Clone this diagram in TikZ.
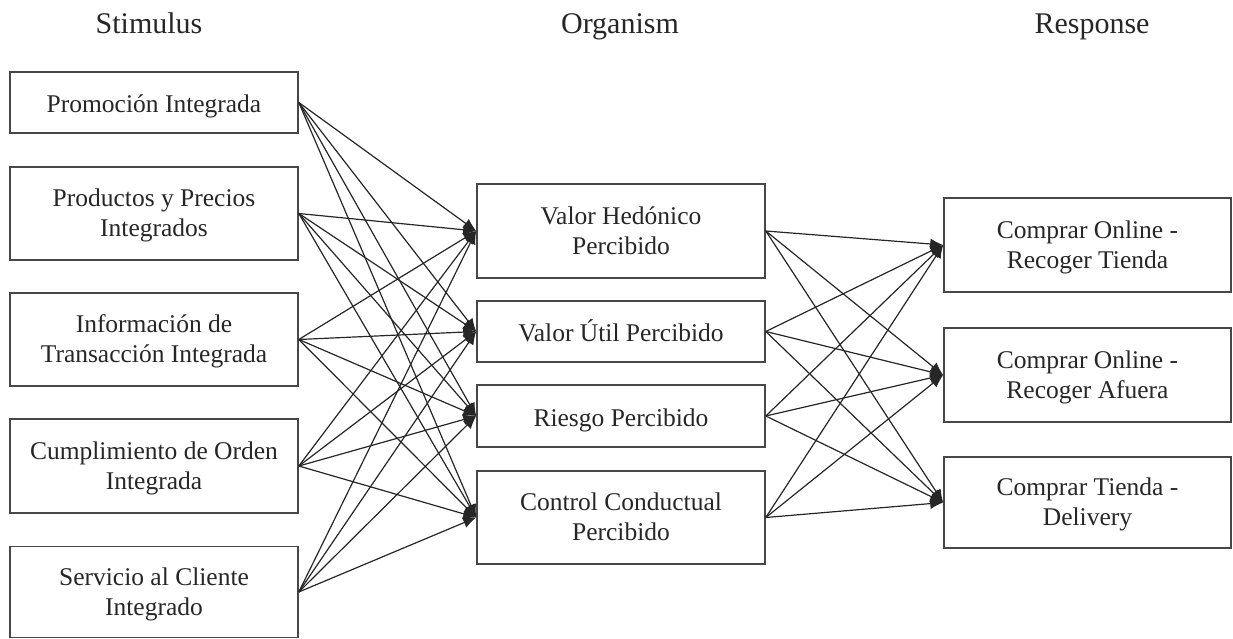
\documentclass[tikz,border=0pt]{standalone}
\usepackage{fontspec}
\setmainfont{Liberation Serif}
\usetikzlibrary{arrows.meta}
\begin{document}
\begin{tikzpicture}[x=1pt,y=-1pt,
  box/.style={draw=black!72,line width=1.6pt,rectangle,inner sep=0pt,
    minimum width=288pt,align=center,text=black!85,
    font=\fontsize{25.5}{30}\selectfont},
  oneline/.style={text height=24pt,text depth=4pt},
  twoline/.style={text height=50pt,text depth=4pt},
  link/.style={draw=black!85,line width=1.2pt,-{Latex[length=13pt,width=11pt]}},
  head/.style={text=black!85,anchor=base,font=\fontsize{30}{36}\selectfont}]
\useasboundingbox (0,0) rectangle (1233,639);

% column headings
\node[head] (hs) at (149,34) {Stimulus};
\node[head] (ho) at (620,34) {Organism};
\node[head] (hr) at (1092,34) {Response};

% stimulus column
\node[box,oneline,minimum height=61pt] (s1) at (154,102.5) {Promoción Integrada};
\node[box,twoline,minimum height=93pt] (s2) at (154,213.5) {Productos y Precios\\Integrados};
\node[box,twoline,minimum height=93pt] (s3) at (154,339.5) {Información de\\Transacción Integrada};
\node[box,twoline,minimum height=94pt] (s4) at (154,466) {Cumplimiento de Orden\\Integrada};
\node[box,twoline,minimum height=91pt] (s5) at (154,592) {Servicio al Cliente\\Integrado};

% organism column
\node[box,twoline,minimum height=94pt] (o1) at (621,231) {Valor Hedónico\\Percibido};
\node[box,oneline,minimum height=61pt] (o2) at (621,331.5) {Valor Útil Percibido};
\node[box,oneline,minimum height=62pt] (o3) at (621,416) {Riesgo Percibido};
\node[box,twoline,minimum height=93pt] (o4) at (621,517.5) {Control Conductual\\Percibido};

% response column
\node[box,twoline,minimum width=287pt,minimum height=94pt] (r1) at (1087.5,245) {Comprar Online -\\Recoger Tienda};
\node[box,twoline,minimum width=287pt,minimum height=94pt] (r2) at (1087.5,375) {Comprar Online -\\Recoger Afuera};
\node[box,twoline,minimum width=287pt,minimum height=91pt] (r3) at (1087.5,502.5) {Comprar Tienda -\\Delivery};

% every stimulus feeds every organism state
\foreach \s in {s1,s2,s3,s4,s5}
  \foreach \o in {o1,o2,o3,o4}
    \draw[link] (\s.east) -- (\o.west);

% every organism state feeds every response
\foreach \o in {o1,o2,o3,o4}
  \foreach \r in {r1,r2,r3}
    \draw[link] (\o.east) -- (\r.west);
\end{tikzpicture}
\end{document}
